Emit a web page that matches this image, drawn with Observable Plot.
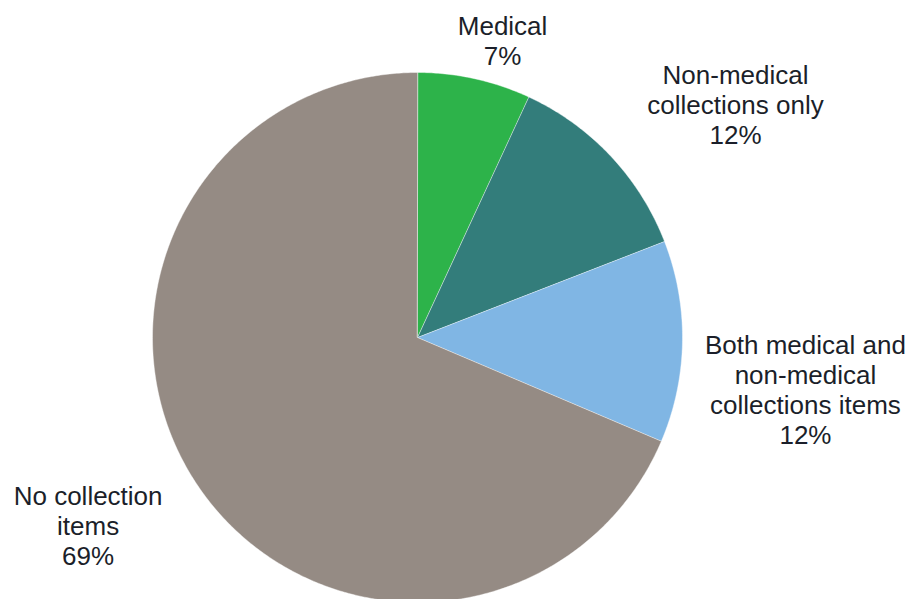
<!DOCTYPE html>
<html>
<head>
<meta charset="utf-8">
<script src="https://cdn.jsdelivr.net/npm/d3@7"></script>
<script src="https://cdn.jsdelivr.net/npm/@observablehq/plot@0.6"></script>
<style>
  html, body { margin: 0; padding: 0; background: #fff; }
  #chart { width: 911px; height: 599px; }
</style>
</head>
<body>
<div id="chart"></div>
<script>
// Data
const categories = ["Medical", "Non-medical collections only", "Both medical and non-medical collections items", "No collection items"];
const shares = [6.9, 12.2, 12.3, 68.6];
const labelNames = [
  "Medical",
  "Non-medical\ncollections only",
  "Both medical and\nnon-medical\ncollections items",
  "No collection\nitems"
];
const colors = ["#2db34a", "#337d7b", "#80b6e4", "#958b84"];

// Layout (unit-circle coordinates for label centres)
const labelX = [0.321, 1.20, 1.464, -1.243];
const labelY = [1.122, 0.879, -0.195, -0.709];

// Build pie slices with d3.pie (clockwise from 12 o'clock)
const pie = d3.pie().sort(null).value(d => d.share);
const slices = pie(categories.map((c, i) => ({name: c, share: shares[i], color: colors[i]})));
const pts = [];
for (const s of slices) {
  pts.push({name: s.data.name, color: s.data.color, x: 0, y: 0});
  const n = Math.max(2, Math.ceil((s.endAngle - s.startAngle) / (Math.PI / 360)));
  for (let k = 0; k <= n; k++) {
    const a = s.startAngle + (s.endAngle - s.startAngle) * k / n;
    pts.push({name: s.data.name, color: s.data.color, x: Math.sin(a), y: Math.cos(a)});
  }
}
const labels = categories.map((c, i) => ({
  text: labelNames[i] + "\n" + Math.round(shares[i]) + "%",
  x: labelX[i], y: labelY[i]
}));

const W = 911, H = 599, cx = 417, cy = 337, R = 265;
const chart = Plot.plot({
  width: W,
  height: H,
  margin: 0,
  x: {domain: [-cx / R, (W - cx) / R], range: [0, W], axis: null},
  y: {domain: [-(H - cy) / R, cy / R], range: [H, 0], axis: null},
  style: {fontFamily: "'Liberation Sans', Arial, sans-serif", background: "#fff"},
  marks: [
    Plot.line(pts, {x: "x", y: "y", z: "name", fill: "color", stroke: "#ffffff", strokeWidth: 0.6, strokeOpacity: 0.7, curve: "linear-closed"}),
    Plot.text(labels, {x: "x", y: "y", text: "text", fontSize: 26, lineHeight: 1.16, textAnchor: "middle", lineAnchor: "middle", fill: "#1b1f2a"})
  ]
});
document.getElementById("chart").appendChild(chart);
</script>
</body>
</html>
